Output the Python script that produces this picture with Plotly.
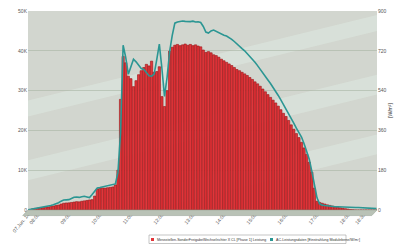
import pandas as pd
import plotly.graph_objects as go

# 5-minute time grid (07:40 .. 18:55)
times = pd.date_range("2014-06-07 07:40", periods=136, freq="5min")

# AC power of the inverter [W] (bars, left axis)
power_w = [
    0, 0, 300, 400,
    500, 550, 600, 700, 760, 900, 1000, 1150, 1260, 1500, 1700, 1770,
    1800, 1900, 2000, 2100, 2050, 2200, 2300, 2400, 2525, 2600, 3500, 5300,
    5400, 5550, 5500, 5600, 5700, 5800, 6300, 10000, 27800, 38600, 37000, 33600,
    33000, 31000, 32500, 34000, 35000, 35800, 36600, 36200, 37400, 34600, 34800, 36000,
    28500, 26000, 30000, 39900, 40900, 41400, 41600, 41300, 41500, 41700, 41400, 41600,
    41300, 41500, 41200, 41000, 40200, 39600, 39800, 39500, 39000, 38800, 38400, 37900,
    37500, 37100, 36700, 36300, 35800, 35300, 35000, 34600, 34200, 33800, 33300, 32800,
    32200, 31700, 31100, 30400, 29700, 29000, 28300, 27600, 26900, 26100, 25200, 24300,
    23500, 22500, 21400, 20300, 19200, 18200, 17000, 15600, 14000, 12000, 9500, 5500,
    2200, 1900, 1700, 1500, 1300, 1150, 1000, 850, 700, 560, 440, 330,
    230, 130, 60, 0, 0, 0, 0, 0, 0, 0, 0, 0,
]

# irradiance on module plane [W/m²] (line, right axis)
irradiance = [
    0, 2, 4, 6,
    9, 10, 12, 14, 17, 20, 24, 28, 33, 40, 45, 46,
    47, 52, 58, 59, 57, 60, 62, 59, 56, 70, 88, 100,
    102, 105, 108, 110, 112, 114, 118, 170, 350, 745, 690, 614,
    650, 682, 670, 655, 640, 636, 620, 607, 605, 615, 680, 750,
    640, 514, 600, 718, 790, 845, 850, 852, 855, 853, 851, 852,
    854, 850, 851, 848, 830, 805, 800, 810, 814, 808, 800, 795,
    790, 787, 780, 772, 762, 750, 740, 730, 720, 708, 695, 682,
    668, 653, 638, 622, 605, 588, 572, 555, 537, 518, 498, 478,
    458, 438, 416, 393, 370, 350, 330, 300, 268, 230, 175, 110,
    55, 28, 22, 20, 18, 17, 16, 15, 15, 14, 14, 13,
    13, 12, 12, 11, 11, 10, 10, 9, 9, 8, 8, 6,
]

x_tick_vals = ["2014-06-07 07:41", "2014-06-07 08:00", "2014-06-07 09:00", "2014-06-07 10:00",
               "2014-06-07 11:00", "2014-06-07 12:00", "2014-06-07 13:00", "2014-06-07 14:00",
               "2014-06-07 15:00", "2014-06-07 16:00", "2014-06-07 17:00", "2014-06-07 18:00",
               "2014-06-07 18:30"]
x_tick_text = ["07.Jun. 14", "08:00", "09:00", "10:00", "11:00", "12:00", "13:00", "14:00",
               "15:00", "16:00", "17:00", "18:00", "18:30"]

y_left_vals = [0, 10000, 20000, 30000, 40000, 50000]
y_left_text = ["0", "10K", "20K", "30K", "40K", "50K"]
y_right_vals = [0, 180, 360, 540, 720, 900]

series_names = ["Messstellen-SonderFreigabeWechselrichter X CL [Phase 1] Leistung",
                "AC-Leistungsdaten [Einstrahlung Modulebene/W/m²]"]
series_colors = ["#e2353a", "#2b9693"]

W, H = 395, 244
ML, MR, MT, MB = 28, 18, 11, 34
PW, PH = W - ML - MR, H - MT - MB


def px(x):
    return (x - ML) / PW


def py(y):
    return (H - MB - y) / PH


fig = go.Figure()
fig.add_trace(go.Bar(
    x=times, y=power_w, name=series_names[0],
    marker=dict(color=series_colors[0], line=dict(color="#9a1216", width=0.6)),
    yaxis="y", hoverinfo="skip",
))
fig.add_trace(go.Scatter(
    x=times, y=irradiance, name=series_names[1], mode="lines",
    line=dict(color=series_colors[1], width=1.6), yaxis="y2", hoverinfo="skip",
))

# faint diagonal light bands in the background (decoration, kept inside plot area)
bands = [
    "M 0,0.55 L 1,0.98 L 1,0.90 L 0,0.47 Z",
    "M 0,0.25 L 1,0.68 L 1,0.58 L 0,0.15 Z",
    "M 0.116,0 L 1,0.38 L 1,0.28 L 0.349,0 Z",
]
shapes = []
for p in bands:
    shapes.append(dict(type="path", path=p, xref="paper", yref="paper",
                       fillcolor="rgba(225,238,228,0.45)", line=dict(width=0), layer="below"))
# floor of the pseudo-3D chart
shapes.append(dict(type="path", path="M 0,0 L 1,0 L 0.985,-0.028 L -0.015,-0.028 Z",
                   xref="paper", yref="paper", fillcolor="#b9c2b6",
                   line=dict(color="#9aa698", width=0.6), layer="above"))

# compact legend box drawn with shapes + annotations
shapes.append(dict(type="rect", xref="paper", yref="paper",
                   x0=px(149), x1=px(346), y0=py(243.5), y1=py(235),
                   fillcolor="white", line=dict(color="#a0a0a0", width=0.6)))
shapes.append(dict(type="rect", xref="paper", yref="paper",
                   x0=px(151), x1=px(154), y0=py(241), y1=py(238),
                   fillcolor=series_colors[0], line=dict(width=0)))
shapes.append(dict(type="rect", xref="paper", yref="paper",
                   x0=px(270), x1=px(273), y0=py(241), y1=py(238),
                   fillcolor=series_colors[1], line=dict(width=0)))
annotations = [
    dict(text=series_names[0], x=px(155), y=py(239.5), xref="paper", yref="paper",
         xanchor="left", yanchor="middle", showarrow=False,
         font=dict(size=3.6, color="#333", family="Liberation Sans")),
    dict(text=series_names[1], x=px(274), y=py(239.5), xref="paper", yref="paper",
         xanchor="left", yanchor="middle", showarrow=False,
         font=dict(size=3.6, color="#333", family="Liberation Sans")),
]

fig.update_layout(
    width=W, height=H,
    margin=dict(l=ML, r=MR, t=MT, b=MB, autoexpand=False),
    paper_bgcolor="white",
    plot_bgcolor="#d2d6cf",
    bargap=0.12,
    showlegend=False,
    hovermode=False,
    font=dict(family="Liberation Sans", size=5, color="#555"),
    shapes=shapes,
    annotations=annotations,
    xaxis=dict(
        type="date",
        range=["2014-06-07 07:41", "2014-06-07 18:56"],
        tickvals=x_tick_vals, ticktext=x_tick_text, tickangle=-50,
        showgrid=False, zeroline=False, showline=False,
        tickfont=dict(size=5, color="#555"), ticks="",
    ),
    yaxis=dict(
        range=[0, 50000], tickvals=y_left_vals, ticktext=y_left_text,
        showgrid=True, gridcolor="#a9b4a4", gridwidth=0.6, zeroline=False,
        tickfont=dict(size=5, color="#555"), ticks="",
    ),
    yaxis2=dict(
        range=[0, 900], tickvals=y_right_vals, overlaying="y", side="right",
        showgrid=False, zeroline=False,
        tickfont=dict(size=5, color="#555"), ticks="",
        title=dict(text="[W/m²]", font=dict(size=5, color="#333"), standoff=2),
    ),
)

fig.write_html("out.html", config={"displayModeBar": False, "staticPlot": True},
               post_script="document.body.style.margin='0';document.body.style.overflow='hidden';")
